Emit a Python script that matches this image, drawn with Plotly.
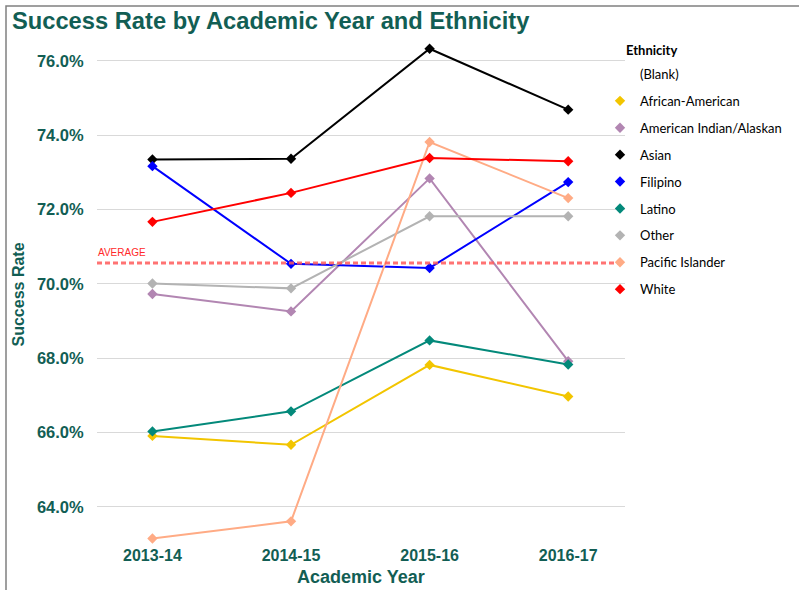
import plotly.graph_objects as go

# ---------------- data ----------------
years = ["2013-14", "2014-15", "2015-16", "2016-17"]
series_names = ["(Blank)", "African-American", "American Indian/Alaskan", "Asian",
                "Filipino", "Latino", "Other", "Pacific Islander", "White"]
blank = [None, None, None, None]
african_american = [65.91, 65.67, 67.82, 66.97]
american_indian = [69.73, 69.26, 72.84, 67.92]
asian = [73.35, 73.37, 76.33, 74.69]
filipino = [73.17, 70.54, 70.43, 72.74]
latino = [66.03, 66.57, 68.48, 67.83]
other = [70.01, 69.88, 71.82, 71.82]
pacific_islander = [63.15, 63.61, 73.82, 72.31]
white = [71.67, 72.45, 73.39, 73.30]
average_rate = 70.56
y_tick_values = [64, 66, 68, 70, 72, 74, 76]

series_values = [blank, african_american, american_indian, asian, filipino,
                 latino, other, pacific_islander, white]
series_colors = ["rgba(0,0,0,0)", "#f2c500", "#b286b2", "#000000", "#0000ff",
                 "#03897a", "#b3b3b3", "#ffab85", "#ff0000"]

# ---------------- layout geometry (pixels) ----------------
W, H = 799, 590
L, R, T, B = 97, 174, 45, 46
PW, PH = W - L - R, H - T - B

def px_x(px):
    return (px - L) / PW

def px_y(py):
    return (H - B - py) / PH

TEAL = "#125e54"
BOLD = "Liberation Sans"

fig = go.Figure()

# lines (no legend)
for name, vals, col in zip(series_names, series_values, series_colors):
    fig.add_trace(go.Scatter(
        x=years, y=vals, mode="lines", name=name, legendgroup=name,
        showlegend=False, line=dict(color=col, width=2), hoverinfo="skip",
        cliponaxis=False))

# markers (with legend)
for name, vals, col in zip(series_names, series_values, series_colors):
    fig.add_trace(go.Scatter(
        x=years, y=vals, mode="markers", name=name, legendgroup=name,
        marker=dict(symbol="diamond", size=8, color=col, line=dict(width=0)),
        cliponaxis=False))

# average line
fig.add_shape(type="line", xref="paper", x0=0, x1=1, yref="y",
              y0=average_rate, y1=average_rate,
              line=dict(color="rgba(255,90,90,0.85)", width=3, dash="5px,3px"))

annotations = [
    dict(text="AVERAGE", xref="paper", x=px_x(96), xanchor="left",
         yref="y", y=average_rate, yanchor="bottom", yshift=3, showarrow=False,
         font=dict(family="Liberation Sans Narrow, Liberation Sans", size=10, color="#ff2a2a")),
    dict(text="Ethnicity", xref="paper", x=px_x(624), xanchor="left",
         yref="paper", y=px_y(50), yanchor="middle", showarrow=False,
         font=dict(family="Lato", size=13, color="#000000", weight="bold")),
    dict(text="Success Rate", xref="paper", x=px_x(18), xanchor="center",
         yref="paper", y=0.5, yanchor="middle", textangle=-90, showarrow=False,
         font=dict(family=BOLD, size=16, color=TEAL, weight="bold")),
    dict(text="Academic Year", xref="paper", x=0.5, xanchor="center",
         yref="paper", y=px_y(577), yanchor="middle", showarrow=False,
         font=dict(family=BOLD, size=18, color=TEAL, weight="bold")),
]

# chart frame
fig.add_shape(type="rect", xref="paper", yref="paper",
              x0=px_x(6), x1=px_x(830), y0=px_y(640), y1=px_y(6),
              line=dict(color="#808080", width=1.5), layer="below")

fig.update_layout(
    width=W, height=H,
    margin=dict(l=L, r=R, t=T, b=B, pad=0),
    paper_bgcolor="white", plot_bgcolor="white",
    title=dict(text="Success Rate by Academic Year and Ethnicity",
               x=12 / W, xanchor="left", xref="container",
               y=1 - 21 / H, yanchor="middle", yref="container",
               font=dict(family=BOLD, size=23.7, color=TEAL, weight="bold")),
    xaxis=dict(range=[-0.4, 3.41], showgrid=False, zeroline=False,
               showline=False, ticks="",
               tickfont=dict(family=BOLD, size=16, color=TEAL, weight="bold")),
    yaxis=dict(range=[63.0, 76.43], tickvals=y_tick_values,
               ticktext=[f"{v:.1f}%" for v in y_tick_values],
               showgrid=True, gridcolor="#d9d9d9", gridwidth=1,
               zeroline=False, showline=False,
               ticks="outside", ticklen=9, tickcolor="rgba(0,0,0,0)",
               tickfont=dict(family=BOLD, size=16.5, color=TEAL, weight="bold")),
    legend=dict(x=px_x(600), xanchor="left", y=px_y(59), yanchor="top",
                font=dict(family="Lato", size=13, color="#000000"),
                tracegroupgap=7.0, traceorder="grouped",
                bgcolor="rgba(0,0,0,0)", borderwidth=0),
    annotations=annotations,
    showlegend=True,
)

fig.write_html("out.html", config={"displayModeBar": False},
               post_script="document.body.style.margin='0';")
